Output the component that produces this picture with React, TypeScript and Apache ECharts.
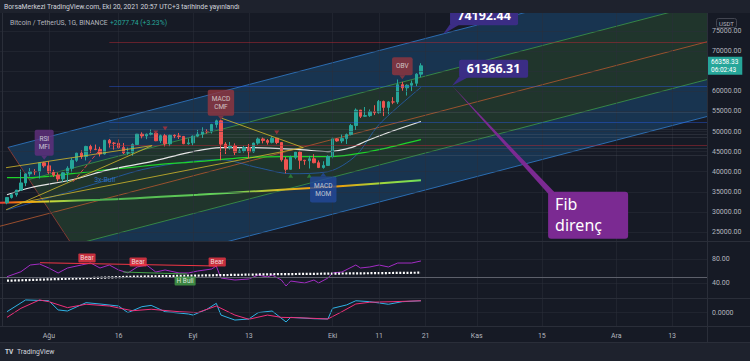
import React, { useEffect, useRef } from "react";
import * as echarts from "echarts";

// ---------------- data (x = day index, index 0 = 2021-07-22) ----------------
const firstCandleIndex = 1; // 2021-07-23
// [open, high, low, close]
const candleOHLC: number[][] = [
  [32288, 33650, 31900, 33587], [33587, 34500, 33300, 34283], [34283, 35450, 33800, 35425],
  [35425, 40550, 35200, 37208], [37208, 39540, 36400, 39456], [39456, 40900, 38800, 40019],
  [40019, 40650, 39200, 40016], [40016, 42300, 38300, 42206], [42206, 42450, 41000, 41461],
  [41461, 42600, 39450, 39846], [39846, 40450, 38700, 39147], [39147, 39780, 37600, 38207],
  [38207, 39970, 37500, 39723], [39723, 41350, 37300, 40862], [40862, 43400, 39850, 42836],
  [42836, 44700, 42450, 44614], [44614, 45300, 43200, 43792], [43792, 46450, 42800, 46285],
  [46285, 46700, 44700, 45595], [45595, 46750, 45350, 45554], [45554, 46200, 43800, 44422],
  [44422, 47900, 44250, 47834], [47834, 48150, 46000, 47113], [47113, 47400, 45500, 47054],
  [47054, 48050, 45650, 46004], [46004, 47150, 44400, 44696], [44696, 46000, 44200, 44714],
  [44714, 47050, 43950, 46760], [46760, 49400, 46650, 49339], [49339, 49800, 48300, 48906],
  [48906, 49500, 48100, 49321], [49321, 50500, 49050, 49546], [49546, 49850, 47600, 47706],
  [47706, 49250, 47150, 48960], [48960, 49400, 46300, 46942], [46942, 49200, 46350, 49058],
  [49058, 49300, 48350, 48897], [48897, 49650, 48150, 48767], [48767, 48900, 46850, 46970],
  [46970, 48250, 46700, 47166], [47166, 49000, 46550, 48847], [48847, 50400, 48600, 49327],
  [49327, 51050, 48400, 50025], [50025, 50550, 49500, 49944], [49944, 51900, 49500, 51753],
  [51753, 52950, 50950, 52663], [52663, 52950, 42850, 46863], [46863, 47350, 44400, 46048],
  [46048, 47400, 45500, 46395], [46395, 47050, 44150, 44850], [44850, 45950, 44750, 45173],
  [45173, 46450, 44750, 46025], [46025, 46900, 43400, 44940], [44940, 47250, 44700, 47112],
  [47112, 48500, 46700, 48146], [48146, 48500, 47050, 47753], [47753, 48150, 46750, 47303],
  [47303, 48850, 47050, 48314], [48314, 48350, 46850, 47261], [47261, 47350, 42500, 42961],
  [42961, 43650, 39600, 40588], [40588, 44000, 40550, 43576], [43576, 44950, 43100, 44896],
  [44896, 45200, 40700, 42840], [42840, 42950, 41700, 42717], [42717, 43950, 40800, 43209],
  [43209, 44350, 42100, 42236], [42236, 42800, 40900, 41035], [41035, 42600, 40750, 41564],
  [41564, 44100, 41450, 43790], [43790, 48500, 43300, 48165], [48165, 48350, 47450, 47657],
  [47657, 49250, 47100, 48233], [48233, 49500, 46900, 49245], [49245, 51900, 49050, 51494],
  [51494, 55750, 50400, 55340], [55340, 55350, 53350, 53797], [53797, 56100, 53650, 53964],
  [53964, 55500, 53650, 54963], [54963, 56550, 54100, 54691], [54691, 57850, 54450, 57485],
  [57485, 57700, 53850, 56006], [56006, 57600, 54300, 57367], [57367, 58550, 56800, 57347],
  [57347, 62950, 56850, 61672], [61672, 62350, 60150, 60875], [60875, 61750, 58950, 61528],
  [61528, 62700, 60050, 62010], [62010, 64500, 61300, 64281], [64281, 66999, 63500, 66358.33],
];
const lastPriceText = "66358.33";
const countdownText = "06:02:43";

const timeLabelIndex = [10, 25, 41, 53, 71, 81, 91, 102, 116, 132, 144];
const timeLabelText = ["Ağu", "16", "Eyl", "13", "Eki", "11", "21", "Kas", "15", "Ara", "13"];
const priceTicks = [25000, 30000, 35000, 40000, 45000, 50000, 55000, 60000, 65000, 70000, 75000];
// 65000.00 sits under the live price tag in the reference, so it is not printed
const priceLabelTicks = [25000, 30000, 35000, 40000, 45000, 50000, 55000, 60000, 70000, 75000];
const rsiTicks = [40, 80];
const oscTicks = [0];

// moving averages [dayIndex, price]
const maWhite = [[1, 34250], [6, 36000], [15, 38000], [23, 40500], [32, 42500], [40, 44750], [47, 46000], [53, 46000], [64, 45500], [70, 45000], [75, 46000], [78, 47500], [83, 49750], [90, 52500]];
const maGreen = [[1, 38500], [5, 38500], [15, 39500], [23, 40500], [33, 41700], [42, 42500], [52, 43500], [60, 43750], [70, 43750], [75, 44250], [81, 45500], [90, 48000]];
const maLong = [[-0.5, 32250], [21, 33000], [42, 34250], [60, 35500], [71, 36250], [90, 37900]];
const maBlue = [[1, 30500], [10, 33500], [20, 37000], [30, 40500], [40, 42500], [47, 43000], [55, 41000], [62, 39500], [70, 40000], [76, 44000], [81, 51750], [90, 61000]];

// Fib channel drawing: start point on the slanted left edge and end point on the right edge of each line
const channelStart = [[1.2, 46044], [5.74, 38065], [10.48, 29747], [15.04, 21724], [19.51, 13874]];
const channelEnd = [[151.5, 91435], [151.5, 82085], [151.5, 72335], [151.5, 62935], [151.5, 53735]];
const channelMidExtensionStart = [-0.5, 26431];

// horizontal levels (from Aug 14 to the right)
const levelStartIndex = 23;
const levelPrices = [72250, 61366.31, 54750, 52250, 50500, 49250, 48500, 46500, 45750, 44000];
const levelKinds = ["red", "blue", "grey", "blue", "grey", "grey", "grey", "red", "grey", "grey"];

// trend lines
const trendLines = [
  [[0.8, 41000], [32.2, 46500]],
  [[0.8, 30500], [32.2, 46500]],
  [[3.8, 32250], [64.7, 46000]],
  [[47.2, 53300], [64.7, 46000]],
];
const dashedRedLine = [[15.2, 37500], [21, 45500]];

// signal labels
const signalText = ["RSI\nMFI", "MACD\nCMF", "MACD\nMOM", "OBV"];
const signalAt = [[9, 43500], [47, 53400], [69, 39300], [86, 63500]];
const signalKind = ["purple", "red", "blue", "red"];
const signalDir = ["down", "down", "up", "down"];
const bearMarks = [[33, 49750], [35, 50750], [59, 49750]];
const bullMarks = [[62, 39000], [66, 39000]];
const bullTextAt = [22, 38000];

// callouts
const callout74 = { at: [94.75, 74192.44], text: "74192.44" };
const callout61 = { at: [96.7, 61366.31], text: "61366.31" };
const fibNoteLines = ["Fib", "direnç"];

// pane 1 (RSI style oscillator)
const rsiLine = [[1, 50.5], [4, 58.8], [6, 70], [8, 71.7], [10, 65], [12, 56.7], [14, 65], [17, 70], [19, 73.3], [21, 65], [23, 70], [25, 61.7], [27, 56.7], [29, 66.7], [31, 70], [33, 58.3], [35, 61.7], [38, 56.7], [40, 56.7], [42, 60], [45, 63.3], [46, 68.3], [47, 48.3], [50, 45], [53, 46.7], [55, 53.3], [57, 50], [58, 53.3], [60, 45], [61, 35], [62, 43.3], [65, 40], [67, 45], [68, 40], [70, 48.3], [71, 56.7], [73, 58.3], [76, 70], [77, 65], [79, 66.7], [81, 70], [83, 66.7], [85, 73.3], [88, 73.3], [90, 76.7]];
const rsiSignal = [[1, 43.8], [28, 50.5], [57, 54.5], [90, 57.2]];
const rsiMidLevel = 50;
const bearLine = [[8.1, 73.8], [46.2, 68.3]];
const hBullLine = [[26, 58.3], [39.7, 55]];
const divText = ["Bear", "Bear", "Bear", "H Bull"];
const divAt = [[18.2, 81.7], [29.2, 75], [46.2, 75], [39.3, 43.3]];
const divKind = ["bear", "bear", "bear", "bull"];

// pane 2 (two oscillator lines)
const oscCyan = [[1, 0.06], [5, 0.93], [10, 0.87], [12, 0.19], [14, 0.11], [18, 0.73], [21, 0.63], [25, 0.48], [27, -0.01], [30, 0.43], [32, 0.53], [35, 0.06], [40, -0.11], [41, -0.19], [44, 0.24], [46, 0.68], [47, -0.19], [50, -0.56], [53, -0.48], [55, -0.01], [58, 0.11], [61, -0.7], [62, -0.36], [67, -0.46], [70, -0.48], [71, 0.31], [74, 0.56], [76, 0.87], [79, 0.8], [83, 0.61], [86, 0.8], [90, 0.87]];
const oscMagenta = [[1, -0.36], [4, 0.31], [8, 0.93], [10, 0.8], [14, 0.36], [18, 0.61], [23, 0.48], [28, 0.13], [32, 0.24], [38, 0.06], [42, -0.01], [46, 0.48], [50, -0.19], [53, -0.5], [57, -0.19], [60, -0.36], [64, -0.39], [70, -0.48], [73, 0.06], [76, 0.63], [79, 0.76], [84, 0.8], [90, 0.87]];

// ---------------- styling ----------------
const FONT = "Roboto, 'Noto Sans', 'DejaVu Sans', sans-serif";
const BG = "#161a25";
const BAR_BG = "#1e222d";
const BORDER = "#2a2e39";
const AXIS_TEXT = "#b2b5be";
const GRID_LINE = "rgba(42,46,57,0.5)";
const UP = "#26a69a";
const DOWN = "#ef5350";
const channelFill = ["rgba(33,150,243,0.21)", "rgba(76,175,80,0.18)", "rgba(76,175,80,0.18)", "rgba(33,150,243,0.21)"];
const channelLineColor = ["rgba(47,120,196,0.85)", "rgba(61,154,72,0.8)", "rgba(184,90,48,0.8)", "rgba(61,154,72,0.8)", "rgba(47,120,196,0.85)"];
const channelEdgeColor = "rgba(155,62,54,0.8)";
const levelColor: Record<string, string> = { red: "rgba(178,40,51,0.5)", blue: "rgba(41,98,255,0.38)", grey: "rgba(120,123,134,0.2)" };
const signalBg: Record<string, string> = { purple: "#63307f", red: "#93363f", blue: "#23489a" };
const divBg: Record<string, string> = { bear: "#f23645", bull: "#43a047" };

const seg = (a: number[], b: number[], color: string, width = 1, type: any = "solid") => [
  { coord: a, lineStyle: { color, width, type } },
  { coord: b },
];

export default function App() {
  const ref = useRef<HTMLDivElement>(null);

  useEffect(() => {
    const el = ref.current!;
    const chart = echarts.init(el, null, { renderer: "svg" });

    const candles = candleOHLC.map((r, k) => [firstCandleIndex + k, r[0], r[3], r[2], r[1]]);
    const lastClose = candleOHLC[candleOHLC.length - 1][3];

    const axisLab = { color: AXIS_TEXT, fontSize: 7, fontFamily: FONT, margin: 5 };
    const yCommon = {
      type: "value",
      position: "right",
      axisLine: { show: true, lineStyle: { color: BORDER } },
      axisTick: { show: false },
      splitLine: { show: false },
    };

    const gridHelper = (g: number, yTicks: number[]) => ({
      type: "line",
      xAxisIndex: g,
      yAxisIndex: g,
      data: [],
      z: 0,
      silent: true,
      markLine: {
        silent: true,
        symbol: "none",
        label: { show: false },
        lineStyle: { color: GRID_LINE, width: 1, type: "solid" },
        data: [...timeLabelIndex.map((x) => ({ xAxis: x })), ...yTicks.map((v) => ({ yAxis: v }))],
      },
    });

    const option: any = {
      animation: false,
      backgroundColor: BG,
      textStyle: { fontFamily: FONT },
      grid: [
        { left: 0, top: 13, width: 707, height: 228 },
        { left: 0, top: 241, width: 707, height: 57 },
        { left: 0, top: 299, width: 707, height: 27 },
      ],
      xAxis: [0, 1, 2].map((g) => ({
        type: "value",
        gridIndex: g,
        min: -0.5,
        max: 151.5,
        axisLine: { show: false },
        axisTick: { show: false },
        splitLine: { show: false },
        axisLabel:
          g === 2
            ? {
                show: true,
                customValues: timeLabelIndex,
                formatter: (v: number) => timeLabelText[timeLabelIndex.indexOf(v)] ?? "",
                color: AXIS_TEXT,
                fontSize: 7,
                fontFamily: FONT,
                margin: 6,
              }
            : { show: false },
      })),
      yAxis: [
        { ...yCommon, gridIndex: 0, min: 22750, max: 79500, axisLabel: { ...axisLab, customValues: priceLabelTicks, formatter: (v: number) => v.toFixed(2) } },
        { ...yCommon, gridIndex: 1, min: 15, max: 110, axisLabel: { ...axisLab, customValues: rsiTicks, formatter: (v: number) => v.toFixed(2) } },
        { ...yCommon, gridIndex: 2, min: -1, max: 1, axisLabel: { ...axisLab, customValues: oscTicks, formatter: (v: number) => v.toFixed(4) } },
      ],
      series: [
        gridHelper(0, priceTicks),
        gridHelper(1, rsiTicks),
        gridHelper(2, oscTicks),
        {
          type: "custom",
          xAxisIndex: 0,
          yAxisIndex: 0,
          clip: true,
          silent: true,
          z: 1,
          data: [[0, 0]],
          renderItem: (_params: any, api: any) => {
            const s = channelStart.map((p) => api.coord(p));
            const e = channelEnd.map((p) => api.coord(p));
            const children: any[] = [];
            for (let k = 0; k < 4; k++) {
              children.push({ type: "polygon", shape: { points: [s[k], e[k], e[k + 1], s[k + 1]] }, style: { fill: channelFill[k] } });
            }
            const m = api.coord(channelMidExtensionStart);
            children.push({ type: "line", shape: { x1: m[0], y1: m[1], x2: s[2][0], y2: s[2][1] }, style: { stroke: channelLineColor[2], lineWidth: 1 } });
            for (let k = 0; k < 5; k++) {
              children.push({ type: "line", shape: { x1: s[k][0], y1: s[k][1], x2: e[k][0], y2: e[k][1] }, style: { stroke: channelLineColor[k], lineWidth: 1 } });
            }
            children.push({ type: "polyline", shape: { points: s }, style: { stroke: channelEdgeColor, lineWidth: 1, fill: null } });
            return { type: "group", children };
          },
        },
        {
          type: "line",
          xAxisIndex: 0,
          yAxisIndex: 0,
          data: [],
          z: 2,
          silent: true,
          markLine: {
            silent: true,
            symbol: "none",
            label: { show: false },
            data: [
              ...levelPrices.map((v, k) => seg([levelStartIndex, v], [151.5, v], levelColor[levelKinds[k]])),
              ...trendLines.map((t) => seg(t[0], t[1], "rgba(201,178,44,0.85)")),
              seg(dashedRedLine[0], dashedRedLine[1], "#e0454f", 1, "dashed"),
            ],
          },
        },
        {
          type: "line", xAxisIndex: 0, yAxisIndex: 0, data: maBlue, showSymbol: false, symbol: "none", smooth: 0.3, z: 3,
          lineStyle: { color: "rgba(41,121,255,0.5)", width: 1 },
        },
        {
          type: "line", xAxisIndex: 0, yAxisIndex: 0, data: maLong, showSymbol: false, symbol: "none", smooth: 0.3, z: 3,
          lineStyle: {
            width: 2,
            color: new echarts.graphic.LinearGradient(0, 0, 1, 0, [
              { offset: 0, color: "#e53935" },
              { offset: 0.06, color: "#ff9800" },
              { offset: 0.12, color: "#cddc39" },
              { offset: 0.22, color: "#4caf50" },
              { offset: 0.55, color: "#66d45a" },
              { offset: 0.66, color: "#d4c02a" },
              { offset: 0.78, color: "#ff8f00" },
              { offset: 0.9, color: "#a5d63a" },
              { offset: 1, color: "#6ee05a" },
            ]),
          },
        },
        {
          type: "line", xAxisIndex: 0, yAxisIndex: 0, data: maGreen, showSymbol: false, symbol: "none", smooth: 0.3, z: 3,
          lineStyle: { color: "#1ed42a", width: 1.2 },
        },
        {
          type: "line", xAxisIndex: 0, yAxisIndex: 0, data: maWhite, showSymbol: false, symbol: "none", smooth: 0.3, z: 3,
          lineStyle: { color: "#e6e6e6", width: 1.2 },
        },
        {
          type: "candlestick",
          xAxisIndex: 0,
          yAxisIndex: 0,
          z: 4,
          barWidth: 3,
          dimensions: ["day", "open", "close", "lowest", "highest"],
          encode: { x: 0, y: [1, 2, 3, 4] },
          data: candles,
          itemStyle: { color: UP, color0: DOWN, borderColor: UP, borderColor0: DOWN, borderWidth: 1 },
          markLine: {
            silent: true,
            symbol: "none",
            lineStyle: { color: "rgba(0,0,0,0)", width: 0 },
            data: [{ yAxis: lastClose }],
            label: {
              show: true,
              position: "end",
              distance: 0,
              formatter: lastPriceText + "\n" + countdownText,
              backgroundColor: UP,
              color: "#ffffff",
              fontSize: 6.5,
              lineHeight: 8,
              padding: [1, 4, 1, 4],
              fontFamily: FONT,
            },
          },
        },
        {
          type: "scatter",
          xAxisIndex: 0,
          yAxisIndex: 0,
          z: 5,
          silent: true,
          data: bearMarks.map((p) => ({ value: p })),
          symbol: "triangle",
          symbolRotate: 180,
          symbolSize: [5, 4],
          itemStyle: { color: "#b0323c" },
        },
        {
          type: "scatter",
          xAxisIndex: 0,
          yAxisIndex: 0,
          z: 5,
          silent: true,
          data: bullMarks.map((p) => ({ value: p })),
          symbol: "triangle",
          symbolSize: [5, 4],
          itemStyle: { color: "#2e8b3a" },
        },
        {
          type: "scatter",
          xAxisIndex: 0,
          yAxisIndex: 0,
          z: 6,
          silent: true,
          data: signalAt.map((p, k) => ({
            value: p,
            name: signalText[k],
            symbolRotate: signalDir[k] === "down" ? 180 : 0,
            itemStyle: { color: signalBg[signalKind[k]] },
            label: {
              show: true,
              position: signalDir[k] === "down" ? "top" : "bottom",
              distance: 0,
              formatter: signalText[k],
              backgroundColor: signalBg[signalKind[k]],
              color: "#e6e6e6",
              fontSize: 6.5,
              lineHeight: 8,
              padding: [5, 4],
              borderRadius: 2,
              fontFamily: FONT,
              align: "center",
            },
          })),
          symbol: "triangle",
          symbolSize: [6, 4],
        },
        {
          type: "scatter",
          xAxisIndex: 0,
          yAxisIndex: 0,
          z: 6,
          silent: true,
          symbolSize: 1,
          itemStyle: { color: "rgba(0,0,0,0)" },
          data: [{ value: bullTextAt }],
          label: { show: true, position: "inside", formatter: "3x-Bull", color: "#2f7de1", fontSize: 7, fontFamily: FONT },
        },
        // ---------- pane 1 ----------
        {
          type: "line",
          xAxisIndex: 1,
          yAxisIndex: 1,
          data: [],
          z: 2,
          silent: true,
          markLine: {
            silent: true,
            symbol: "none",
            label: { show: false },
            data: [
              { yAxis: rsiMidLevel, lineStyle: { color: "#5d606b", width: 1, type: "solid" } },
              seg(bearLine[0], bearLine[1], "#f23645", 1),
              seg(hBullLine[0], hBullLine[1], "#43a047", 1),
            ],
          },
        },
        {
          type: "line", xAxisIndex: 1, yAxisIndex: 1, data: rsiLine, showSymbol: false, symbol: "none", z: 3,
          lineStyle: { color: "#a32cc4", width: 1 },
        },
        {
          type: "line", xAxisIndex: 1, yAxisIndex: 1, data: rsiSignal, showSymbol: false, symbol: "none", z: 4,
          lineStyle: { color: "#ffffff", width: 2.2, type: [2, 1.6] },
        },
        {
          type: "scatter",
          xAxisIndex: 1,
          yAxisIndex: 1,
          z: 6,
          silent: true,
          symbolSize: 1,
          itemStyle: { color: "rgba(0,0,0,0)" },
          data: divAt.map((p, k) => ({
            value: p,
            label: {
              show: true,
              position: "inside",
              formatter: divText[k],
              backgroundColor: divBg[divKind[k]],
              color: "#ffffff",
              fontSize: 6.5,
              padding: [1, 2],
              borderRadius: 1,
              fontFamily: FONT,
            },
          })),
        },
        // ---------- pane 2 ----------
        {
          type: "line", xAxisIndex: 2, yAxisIndex: 2, data: oscCyan, showSymbol: false, symbol: "none", z: 3,
          lineStyle: { color: "#2fb3e6", width: 1 },
        },
        {
          type: "line", xAxisIndex: 2, yAxisIndex: 2, data: oscMagenta, showSymbol: false, symbol: "none", z: 4,
          lineStyle: { color: "#f0307a", width: 1 },
        },
      ],
    };

    chart.setOption(option);

    const p74 = chart.convertToPixel({ gridIndex: 0 }, callout74.at) as number[];
    const p61 = chart.convertToPixel({ gridIndex: 0 }, callout61.at) as number[];
    const CALL_BG = "#3b2d85";
    const FIB_BG = "#7b2a92";
    const noteFont = "'Noto Sans', sans-serif";

    const graphic: any[] = [
      // callout 74192.44
      { type: "polygon", z: 90, shape: { points: [[p74[0] + 7, p74[1] - 10], [p74[0] + 17, p74[1] - 10], [p74[0], p74[1]]] }, style: { fill: CALL_BG } },
      { type: "rect", z: 90, shape: { x: p74[0] + 7, y: p74[1] - 28, width: 68, height: 19, r: 2 }, style: { fill: CALL_BG } },
      { type: "text", z: 91, x: p74[0] + 41, y: p74[1] - 19, style: { text: callout74.text, fill: "#ffffff", fontSize: 12.5, fontWeight: "bold", fontFamily: noteFont, align: "center", verticalAlign: "middle" } },
      // callout 61366.31
      { type: "polygon", z: 90, shape: { points: [[p61[0] + 7, p61[1] - 9], [p61[0] + 17, p61[1] - 9], [p61[0], p61[1]]] }, style: { fill: CALL_BG } },
      { type: "rect", z: 90, shape: { x: p61[0] + 7, y: p61[1] - 26, width: 69, height: 18, r: 2 }, style: { fill: CALL_BG } },
      { type: "text", z: 91, x: p61[0] + 41.5, y: p61[1] - 17, style: { text: callout61.text, fill: "#ffffff", fontSize: 12.5, fontWeight: "bold", fontFamily: noteFont, align: "center", verticalAlign: "middle" } },
      // Fib direnç note
      { type: "polygon", z: 90, shape: { points: [[p61[0], p61[1]], [p61[0] + 97, p61[1] + 109], [p61[0] + 102, p61[1] + 106]] }, style: { fill: FIB_BG } },
      { type: "rect", z: 90, shape: { x: p61[0] + 96, y: p61[1] + 106, width: 80, height: 47, r: 3 }, style: { fill: FIB_BG } },
      { type: "text", z: 91, x: p61[0] + 103, y: p61[1] + 118.5, style: { text: fibNoteLines[0], fill: "#ffffff", fontSize: 16, fontFamily: noteFont, align: "left", verticalAlign: "middle" } },
      { type: "text", z: 91, x: p61[0] + 103, y: p61[1] + 139.5, style: { text: fibNoteLines[1], fill: "#ffffff", fontSize: 16, fontFamily: noteFont, align: "left", verticalAlign: "middle" } },
      // pane separators
      { type: "line", z: 95, shape: { x1: 0, y1: 241.5, x2: 750, y2: 241.5 }, style: { stroke: BORDER, lineWidth: 1 } },
      { type: "line", z: 95, shape: { x1: 0, y1: 298.5, x2: 750, y2: 298.5 }, style: { stroke: BORDER, lineWidth: 1 } },
      { type: "line", z: 95, shape: { x1: 0, y1: 326.5, x2: 750, y2: 326.5 }, style: { stroke: BORDER, lineWidth: 1 } },
      { type: "line", z: 95, shape: { x1: 707.5, y1: 13, x2: 707.5, y2: 342 }, style: { stroke: BORDER, lineWidth: 1 } },
      // header
      { type: "rect", z: 100, shape: { x: 0, y: 0, width: 750, height: 13 }, style: { fill: BAR_BG } },
      { type: "text", z: 101, x: 4, y: 6.5, style: { text: "BorsaMerkezi TradingView.com, Eki 20, 2021 20:57 UTC+3 tarihinde yayınlandı", fill: "#d1d4dc", fontSize: 6.8, fontFamily: FONT, verticalAlign: "middle" } },
      // legend
      { type: "text", z: 101, x: 10, y: 23, style: { text: "Bitcoin / TetherUS, 1G, BINANCE", fill: AXIS_TEXT, fontSize: 6.8, fontFamily: FONT, verticalAlign: "middle" } },
      { type: "text", z: 101, x: 110, y: 23, style: { text: "+2077.74 (+3.23%)", fill: UP, fontSize: 6.8, fontFamily: FONT, verticalAlign: "middle" } },
      // USDT box
      { type: "rect", z: 101, shape: { x: 716.5, y: 18.5, width: 20, height: 9, r: 2 }, style: { fill: BG, stroke: "#434651", lineWidth: 1 } },
      { type: "text", z: 102, x: 726.5, y: 23, style: { text: "USDT", fill: AXIS_TEXT, fontSize: 6, fontFamily: FONT, align: "center", verticalAlign: "middle" } },
      // footer
      { type: "rect", z: 100, shape: { x: 0, y: 342, width: 750, height: 19 }, style: { fill: BAR_BG } },
      { type: "line", z: 101, shape: { x1: 0, y1: 342.5, x2: 750, y2: 342.5 }, style: { stroke: BORDER, lineWidth: 1 } },
      { type: "text", z: 101, x: 5, y: 352, style: { text: "TV", fill: "#d1d4dc", fontSize: 6.5, fontWeight: "bold", fontFamily: FONT, verticalAlign: "middle" } },
      { type: "text", z: 101, x: 17, y: 352, style: { text: "TradingView", fill: "#d1d4dc", fontSize: 6.8, fontFamily: FONT, verticalAlign: "middle" } },
    ];
    chart.setOption({ graphic });

    return () => chart.dispose();
  }, []);

  return <div ref={ref} style={{ position: "fixed", left: 0, top: 0, width: 750, height: 361 }} />;
}
